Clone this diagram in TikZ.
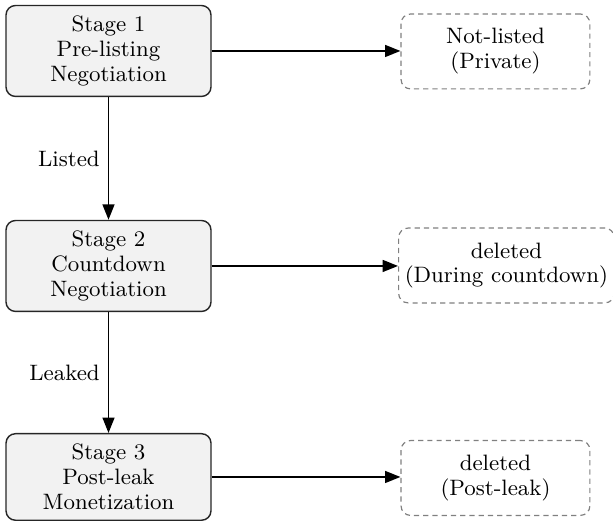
\documentclass[tikz,border=0pt]{standalone}
\usepackage{tikz}
\usetikzlibrary{arrows.meta,positioning}

\begin{document}
\begin{tikzpicture}[
	stagebox/.style={draw=black!85, fill=black!5, rounded corners=4pt, line width=0.6pt, align=center, minimum width=3.04cm, inner ysep=4.4pt},
	endbox/.style={draw=black!50, dash pattern=on 2.2pt off 1.7pt, rounded corners=4pt, line width=0.5pt, align=center, minimum width=2.8cm, minimum height=1.11cm, inner xsep=2.6pt},
	flow/.style={-{Triangle[length=6.5pt,width=5pt]}, thick},
	every node/.style={font=\fontsize{9.4}{10.5}\selectfont}
]

	\useasboundingbox (0,0) rectangle (9.09,7.74);

	\node (S1)[stagebox] at (1.609,6.984) {Stage 1\\Pre-listing\\Negotiation};
	\node (S2)[stagebox] at (1.609,3.796) {Stage 2\\Countdown\\Negotiation};
	\node (S3)[stagebox] at (1.609,0.667) {Stage 3\\Post-leak\\Monetization};

	\node (E1)[endbox] at (7.347,6.977) {Not-listed\\(Private)};
	\node (E2)[endbox] at (7.510,3.803) {deleted\\(During countdown)};
	\node (E3)[endbox] at (7.347,0.652) {deleted\\(Post-leak)};

	\draw [flow] (S1) to node[left] {Listed} (S2);
	\draw [flow] (S2) to node[left] {Leaked} (S3);

	\draw [flow] (S1.east) to (S1.east -| E1.west);
	\draw [flow] (S2.east) to (S2.east -| E2.west);
	\draw [flow] (S3.east) to (S3.east -| E3.west);

\end{tikzpicture}
\end{document}
